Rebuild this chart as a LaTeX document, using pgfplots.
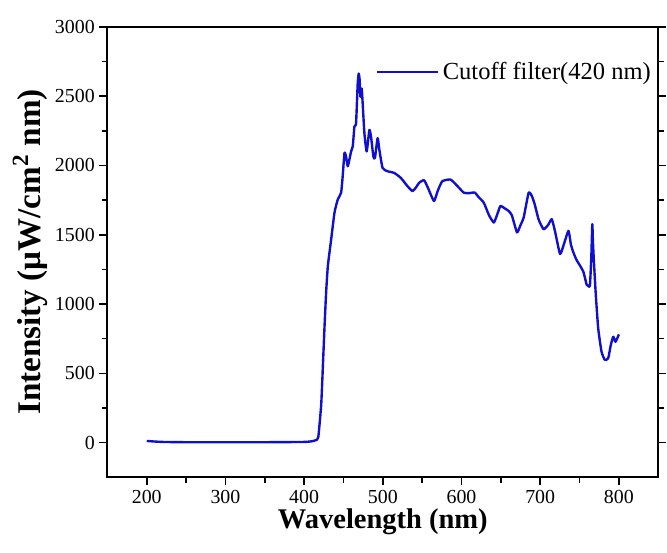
\documentclass[border=0pt]{standalone}
\usepackage{pgfplots}
\pgfplotsset{compat=1.18}
\usepackage{fontspec}
\setmainfont{Liberation Serif}
\definecolor{curve}{RGB}{15,15,205}
\pgfplotstableread{
x y
200 12
205 10
210 8
220 5
250 3
300 3
350 3
400 5
410 10
415 18
418 40
421.7 274
423.9 561
426 847
428 1088
430.2 1277
434.4 1468
438.6 1660
442.8 1755
447 1803
449 1922
451.3 2090
453.3 2065
455.5 1994
459.7 2101
461.8 2137
463.9 2280
466 2304
468.1 2591
469.4 2663
470.6 2615
471.5 2495
473.2 2555
474.4 2448
476.6 2233
479.5 2101
482.9 2256
485 2208
488 2065
490 2054
493.4 2197
495.6 2113
499.7 1982
506 1958
514.5 1946
522.9 1910
531.4 1850
537.7 1815
542 1840
546.2 1875
552.5 1893
558 1830
565 1743
570 1820
575.6 1886
586.1 1898
595 1850
603 1803
610 1800
616.7 1805
622 1770
628.3 1731
635 1640
641 1588
645 1640
649.4 1707
655 1690
660 1671
664 1640
670.5 1517
675 1570
679 1624
685.3 1803
689.4 1779
693 1720
698 1610
704.2 1540
710 1570
714.7 1612
719 1520
725.2 1361
730 1430
735.9 1528
739 1430
742.1 1373
746 1320
750.6 1277
755 1230
759 1140
761.1 1130
763.2 1134
765 1350
766.2 1576
767 1450
768.3 1300
770.7 1062
773.7 824
777.9 657
782.1 597
786.4 609
789.7 704
792.8 764
795.7 728
800 781
}\spectrum
\begin{document}
\begin{tikzpicture}
\path (-81pt,-57pt) rectangle (419.25pt,360pt);
\begin{axis}[
  at={(0pt,0pt)}, anchor=south west,
  scale only axis,
  width=415.5pt, height=339.75pt,
  xmin=150, xmax=850, ymin=-250, ymax=3000,
  xtick={200,300,...,800},
  ytick={0,500,...,3000},
  minor x tick num=1, minor y tick num=1,
  tick align=outside,
  xtick pos=bottom,
  ytick pos=both, yticklabel pos=left,
  major tick length=6pt, minor tick length=4pt,
  every tick/.style={black, line width=1.2pt},
  axis line style={line width=1.5pt},
  /pgf/number format/assume math mode=true,
  /pgf/number format/1000 sep={},
  tick label style={font=\fontsize{15}{18}\selectfont},
  xlabel={Wavelength (nm)},
  ylabel={Intensity (μW/cm\textsuperscript{2} nm)},
  xlabel style={font=\fontsize{21.5}{25}\selectfont\bfseries, yshift=3pt},
  ylabel style={font=\fontsize{25}{28}\selectfont\bfseries, yshift=-1pt},
  legend style={at={(0.993,0.9)}, anchor=east, draw=none, fill=none,
    font=\fontsize{18.5}{22}\selectfont, inner sep=0pt,
    nodes={inner xsep=2.5pt, inner ysep=0pt}},
  legend image code/.code={\draw[#1] (0pt,0pt) -- (46pt,0pt);},
  legend cell align=left,
]
\addplot[color=curve, line width=1.8pt, line join=round, smooth, tension=0.3] table[x=x,y=y] {\spectrum};
\addlegendentry{Cutoff filter(420 nm)}
\end{axis}
\end{tikzpicture}
\end{document}
